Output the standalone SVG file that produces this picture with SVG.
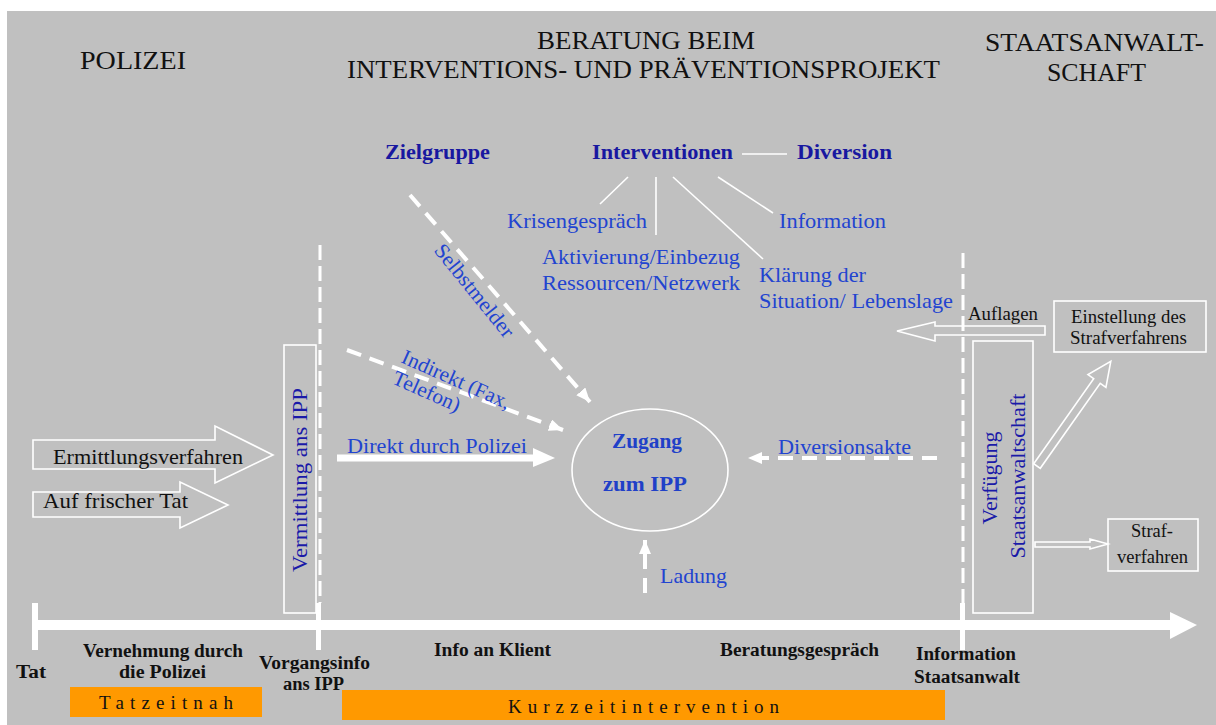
<svg xmlns="http://www.w3.org/2000/svg" width="1216" height="725" viewBox="0 0 1216 725">
  <defs>
    <style>
      .title { font-family: "Liberation Serif", "Times New Roman", serif; font-size: 26px; fill: #111; }
      .blue { font-family: "Liberation Serif", "Times New Roman", serif; font-size: 21px; fill: #2244d0; }
      .head { font-family: "Liberation Serif", "Times New Roman", serif; font-size: 21px; font-weight: bold; fill: #1818a0; }
      .zug { font-family: "Liberation Serif", "Times New Roman", serif; font-size: 21px; font-weight: bold; fill: #2040c8; }
      .dblue { font-family: "Liberation Serif", "Times New Roman", serif; font-size: 20px; fill: #1a1aa8; }
      .black { font-family: "Liberation Serif", "Times New Roman", serif; font-size: 21px; fill: #111; }
      .small { font-family: "Liberation Serif", "Times New Roman", serif; font-size: 18px; fill: #111; }
      .step { font-family: "Liberation Serif", "Times New Roman", serif; font-size: 18px; font-weight: bold; fill: #111; }
      .phase { font-family: "Liberation Serif", "Times New Roman", serif; font-size: 19px; fill: #111; }
      .box { fill: none; stroke: #ffffff; stroke-width: 1.6; }
      .thin { stroke: #ffffff; stroke-width: 1.6; fill: none; }
      .dash { stroke: #ffffff; stroke-width: 4; fill: none; stroke-dasharray: 15 9; }
      .vdash { stroke: #ffffff; stroke-width: 3; fill: none; stroke-dasharray: 15 6; }
      .tick { fill: #ffffff; }
      .bar { fill: #ff9900; }
    </style>
    <marker id="tip" viewBox="0 0 14 12" refX="14" refY="6" markerWidth="14" markerHeight="12" markerUnits="userSpaceOnUse" orient="auto">
      <path d="M0,0 L14,6 L0,12 z" fill="#ffffff"/>
    </marker>
  </defs>

  <!-- background -->
  <rect x="7" y="11" width="1209" height="714" fill="#c0c0c0"/>

  <!-- column headings -->
  <g id="headings">
    <text class="title" x="80" y="69" textLength="106" lengthAdjust="spacingAndGlyphs">POLIZEI</text>
    <text class="title" x="537" y="49" textLength="218" lengthAdjust="spacingAndGlyphs">BERATUNG BEIM</text>
    <text class="title" x="347" y="78" textLength="593" lengthAdjust="spacingAndGlyphs">INTERVENTIONS- UND PRÄVENTIONSPROJEKT</text>
    <text class="title" x="985" y="51" textLength="219" lengthAdjust="spacingAndGlyphs">STAATSANWALT-</text>
    <text class="title" x="1047" y="81" textLength="99" lengthAdjust="spacingAndGlyphs">SCHAFT</text>
  </g>

  <!-- connectors -->
  <g id="connectors">
    <!-- Interventionen branches -->
    <line class="thin" x1="742" y1="154" x2="787" y2="154"/>
    <line class="thin" x1="628" y1="177" x2="600" y2="204"/>
    <line class="thin" x1="656" y1="177" x2="656" y2="235"/>
    <line class="thin" x1="673" y1="177" x2="763" y2="259"/>
    <line class="thin" x1="718" y1="177" x2="773" y2="213"/>

    <!-- access routes into the IPP -->
    <line class="dash" x1="410" y1="195" x2="590" y2="402" marker-end="url(#tip)"/>
    <line class="dash" x1="347" y1="350" x2="563" y2="430" marker-end="url(#tip)"/>
    <line x1="337" y1="458" x2="535" y2="458" stroke="#ffffff" stroke-width="7"/>
    <polygon points="533,448 555,458 533,467" fill="#ffffff"/>
    <line class="dash" x1="937" y1="458" x2="748" y2="458" marker-end="url(#tip)"/>
    <line class="dash" x1="645" y1="593" x2="645" y2="540" marker-end="url(#tip)"/>

    <!-- phase separators -->
    <line class="vdash" x1="320" y1="245" x2="320" y2="603"/>
    <line class="vdash" x1="963" y1="253" x2="963" y2="603"/>

    <!-- police block arrows -->
    <polygon class="box" points="33,440 215,440 215,426 273,455 215,483 215,469 33,469"/>
    <polygon class="box" points="33,492 180,492 180,482 228,505 180,528 180,517 33,517"/>

    <!-- prosecution block arrows -->
    <polygon class="box" points="1045,326 935,326 935,322 897,331 935,341 935,335 1045,335"/>
    <polygon class="box" transform="translate(1037,466) rotate(-54.8)" points="0,-4 104,-4 104,-11 128,0 104,11 104,4 0,4"/>
    <polygon class="box" points="1035,542 1090,542 1090,539 1108,544 1090,549 1090,547 1035,547"/>

    <!-- time axis -->
    <rect x="32" y="620" width="1140" height="10" fill="#ffffff"/>
    <polygon points="1170,612 1197,625 1170,639" fill="#ffffff"/>
    <rect class="tick" x="32" y="603" width="6" height="47"/>
    <rect class="tick" x="316" y="603" width="5" height="47"/>
    <rect class="tick" x="960" y="603" width="5" height="47"/>
  </g>

  <!-- IPP labels -->
  <g id="zielgruppe">
    <text class="head" x="385" y="159" textLength="105" lengthAdjust="spacingAndGlyphs">Zielgruppe</text>
  </g>
  <g id="interventionen">
    <text class="head" x="592" y="159" textLength="141" lengthAdjust="spacingAndGlyphs">Interventionen</text>
  </g>
  <g id="diversion">
    <text class="head" x="797" y="159" textLength="95" lengthAdjust="spacingAndGlyphs">Diversion</text>
  </g>
  <g id="krisengespraech">
    <text class="blue" x="507" y="228" textLength="140" lengthAdjust="spacingAndGlyphs">Krisengespräch</text>
  </g>
  <g id="aktivierung">
    <text class="blue" x="542" y="264" textLength="198" lengthAdjust="spacingAndGlyphs">Aktivierung/Einbezug</text>
    <text class="blue" x="542" y="290" textLength="198" lengthAdjust="spacingAndGlyphs">Ressourcen/Netzwerk</text>
  </g>
  <g id="information">
    <text class="blue" x="779" y="228" textLength="107" lengthAdjust="spacingAndGlyphs">Information</text>
  </g>
  <g id="klaerung">
    <text class="blue" x="759" y="282" textLength="107" lengthAdjust="spacingAndGlyphs">Klärung der</text>
    <text class="blue" x="759" y="308" textLength="194" lengthAdjust="spacingAndGlyphs">Situation/ Lebenslage</text>
  </g>
  <g id="selbstmelder">
    <text class="blue" transform="translate(469,295) rotate(51)" text-anchor="middle" textLength="114" lengthAdjust="spacingAndGlyphs">Selbstmelder</text>
  </g>
  <g id="indirekt">
    <text class="blue" transform="translate(400,362) rotate(24)" textLength="117" lengthAdjust="spacingAndGlyphs">Indirekt (Fax,</text>
    <text class="blue" transform="translate(391,383) rotate(24)" textLength="72" lengthAdjust="spacingAndGlyphs">Telefon)</text>
  </g>
  <g id="direkt">
    <text class="blue" x="347" y="453" textLength="180" lengthAdjust="spacingAndGlyphs">Direkt durch Polizei</text>
  </g>
  <g id="diversionsakte">
    <text class="blue" x="778" y="454" textLength="133" lengthAdjust="spacingAndGlyphs">Diversionsakte</text>
  </g>
  <g id="ladung">
    <text class="blue" x="660" y="583" textLength="67" lengthAdjust="spacingAndGlyphs">Ladung</text>
  </g>
  <g id="zugang">
    <ellipse cx="650" cy="470" rx="78" ry="61" class="box"/>
    <text class="zug" x="612" y="448" textLength="70" lengthAdjust="spacingAndGlyphs">Zugang</text>
    <text class="zug" x="603" y="491" textLength="84" lengthAdjust="spacingAndGlyphs">zum IPP</text>
  </g>

  <!-- police side -->
  <g id="ermittlungsverfahren">
    <text class="black" x="53" y="464" textLength="190" lengthAdjust="spacingAndGlyphs">Ermittlungsverfahren</text>
  </g>
  <g id="frische-tat">
    <text class="black" x="43" y="508" textLength="145" lengthAdjust="spacingAndGlyphs">Auf frischer Tat</text>
  </g>
  <g id="vermittlung">
    <rect class="box" x="284" y="345" width="32" height="268"/>
    <text class="dblue" transform="translate(307,480) rotate(-90)" text-anchor="middle" textLength="184" lengthAdjust="spacingAndGlyphs">Vermittlung ans IPP</text>
  </g>

  <!-- prosecution side -->
  <g id="auflagen">
    <text class="small" x="968" y="320" textLength="70" lengthAdjust="spacingAndGlyphs">Auflagen</text>
  </g>
  <g id="verfuegung">
    <rect class="box" x="973" y="341" width="60" height="272"/>
    <text class="dblue" transform="translate(997,478) rotate(-90)" text-anchor="middle" textLength="93" lengthAdjust="spacingAndGlyphs">Verfügung</text>
    <text class="dblue" transform="translate(1025,476) rotate(-90)" text-anchor="middle" textLength="165" lengthAdjust="spacingAndGlyphs">Staatsanwaltschaft</text>
  </g>
  <g id="einstellung">
    <rect class="box" x="1054" y="301" width="152" height="51"/>
    <text class="small" x="1071" y="323" textLength="115" lengthAdjust="spacingAndGlyphs">Einstellung des</text>
    <text class="small" x="1070" y="344" textLength="117" lengthAdjust="spacingAndGlyphs">Strafverfahrens</text>
  </g>
  <g id="strafverfahren">
    <rect class="box" x="1108" y="519" width="90" height="52"/>
    <text class="small" x="1131" y="537" textLength="42" lengthAdjust="spacingAndGlyphs">Straf-</text>
    <text class="small" x="1117" y="563" textLength="71" lengthAdjust="spacingAndGlyphs">verfahren</text>
  </g>

  <!-- time axis steps -->
  <g id="steps">
    <text class="step" x="16" y="678" textLength="30" lengthAdjust="spacingAndGlyphs">Tat</text>
    <text class="step" x="83" y="657" textLength="160" lengthAdjust="spacingAndGlyphs">Vernehmung durch</text>
    <text class="step" x="119" y="678" textLength="87" lengthAdjust="spacingAndGlyphs">die Polizei</text>
    <text class="step" x="259" y="669" textLength="111" lengthAdjust="spacingAndGlyphs">Vorgangsinfo</text>
    <text class="step" x="283" y="690" textLength="61" lengthAdjust="spacingAndGlyphs">ans IPP</text>
    <text class="step" x="434" y="656" textLength="117" lengthAdjust="spacingAndGlyphs">Info an Klient</text>
    <text class="step" x="720" y="656" textLength="159" lengthAdjust="spacingAndGlyphs">Beratungsgespräch</text>
    <text class="step" x="916" y="660" textLength="100" lengthAdjust="spacingAndGlyphs">Information</text>
    <text class="step" x="914" y="683" textLength="106" lengthAdjust="spacingAndGlyphs">Staatsanwalt</text>
  </g>

  <!-- phases -->
  <g id="tatzeitnah">
    <rect class="bar" x="70" y="687" width="192" height="30"/>
    <text class="phase" x="99" y="709" textLength="134" lengthAdjust="spacing">Tatzeitnah</text>
  </g>
  <g id="kurzzeitintervention">
    <rect class="bar" x="342" y="690" width="603" height="30"/>
    <text class="phase" x="508" y="713" textLength="271" lengthAdjust="spacing">Kurzzeitintervention</text>
  </g>
</svg>
